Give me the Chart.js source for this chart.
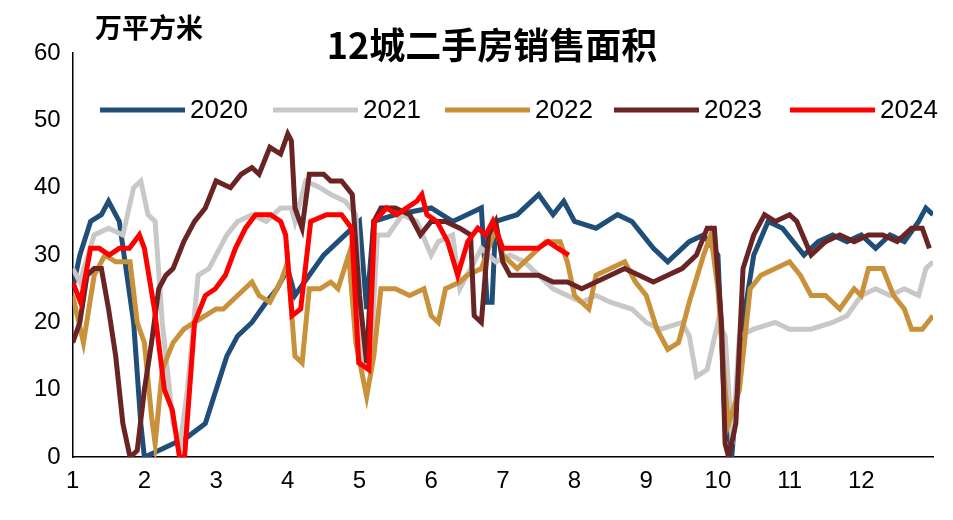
<!DOCTYPE html>
<html><head><meta charset="utf-8">
<script src="https://cdn.jsdelivr.net/npm/chart.js@4"></script>
<style>html,body{margin:0;background:#fff}#w{width:953px;height:520px}</style>
</head><body><div id="w"><canvas id="c"></canvas></div>
<script>
const title = "12城二手房销售面积";
const unit = "万平方米";
const monthTicks = [1,2,3,4,5,6,7,8,9,10,11,12];
const seriesNames = ["2020","2021","2022","2023","2024"];
const colors = ["#1F4E79","#C8C8C8","#C8913A","#6B2424","#FF0000"];

const x2020 = [1,1.1,1.25,1.4,1.5,1.65,1.85,1.95,2.0,2.2,2.4,2.6,2.85,3.0,3.15,3.3,3.5,3.7,3.85,4.0,4.1,4.3,4.5,4.8,5.0,5.1,5.2,5.5,6.0,6.3,6.5,6.7,6.78,6.85,6.9,7.2,7.5,7.7,7.85,8.0,8.3,8.6,8.8,9.1,9.3,9.6,9.8,10.0,10.1,10.2,10.35,10.5,10.7,10.9,11.2,11.4,11.6,11.8,12.0,12.2,12.4,12.6,12.8,12.9,13.0];
const y2020 = [25,30,35,36,38,35,20,5,0,1,2,3,5,10,15,18,20,23,25,28,24,27,30,33,35,22,35,36,37,35,36,37,23,23,35,36,39,36,38,35,34,36,35,31,29,32,33,30,5,1,20,30,35,34,30,32,33,32,33,31,33,32,35,37,36];

const x2021 = [1,1.1,1.3,1.5,1.7,1.85,1.95,2.05,2.15,2.25,2.4,2.5,2.6,2.75,2.9,3.0,3.15,3.3,3.5,3.7,3.9,4.05,4.1,4.25,4.45,4.6,4.8,4.95,5.05,5.15,5.25,5.4,5.6,5.8,6.0,6.1,6.3,6.4,6.5,6.7,6.9,7.1,7.3,7.5,7.7,7.9,8.1,8.3,8.5,8.8,9.0,9.2,9.5,9.6,9.7,9.85,10.0,10.1,10.2,10.3,10.5,10.8,11.0,11.3,11.6,11.8,12.0,12.2,12.4,12.6,12.8,12.9,13.0];
const y2021 = [28,26,33,34,33,40,41,36,35,20,5,2,10,27,28,30,33,35,36,35,37,37,35,41,40,39,38,36,14,13,33,33,36,35,30,32,33,25,27,31,29,30,29,27,25,24,23,24,23,22,20,19,20,18,12,13,20,18,2,18,19,20,19,19,20,21,24,25,24,25,24,28,29];

const x2022 = [1,1.15,1.3,1.45,1.6,1.8,1.9,2.0,2.1,2.15,2.25,2.4,2.55,2.7,2.85,3.0,3.1,3.3,3.5,3.6,3.75,3.9,4.0,4.1,4.2,4.3,4.45,4.6,4.7,4.85,4.95,5.1,5.2,5.3,5.5,5.7,5.9,6.0,6.1,6.2,6.4,6.5,6.7,6.9,7.0,7.2,7.4,7.6,7.8,7.9,8.0,8.2,8.3,8.5,8.7,8.85,9.0,9.15,9.3,9.45,9.6,9.8,9.9,10.0,10.1,10.15,10.3,10.45,10.6,10.8,11.0,11.15,11.3,11.5,11.7,11.9,12.0,12.1,12.3,12.45,12.6,12.7,12.85,13.0];
const y2022 = [24,17,27,30,29,29,20,17,6,2,13,17,19,20,21,22,22,24,26,24,23,26,29,15,14,25,25,26,25,30,17,9,15,25,25,24,25,21,20,25,26,27,28,34,30,28,30,32,32,29,24,22,27,28,29,26,24,19,16,17,23,30,33,25,10,5,10,25,27,28,29,27,24,24,22,25,24,28,28,24,22,19,19,21];

const x2023 = [1,1.1,1.2,1.3,1.4,1.5,1.6,1.7,1.8,1.9,2.0,2.1,2.2,2.3,2.4,2.55,2.7,2.85,3.0,3.2,3.35,3.5,3.6,3.75,3.9,4.0,4.05,4.1,4.2,4.3,4.5,4.6,4.75,4.9,5.0,5.1,5.2,5.3,5.5,5.7,5.85,6.0,6.2,6.4,6.55,6.6,6.7,6.8,6.9,7.0,7.1,7.3,7.5,7.7,7.9,8.1,8.3,8.5,8.7,8.9,9.1,9.3,9.5,9.7,9.85,9.95,10.05,10.1,10.15,10.25,10.35,10.5,10.65,10.8,11.0,11.1,11.3,11.5,11.7,11.9,12.1,12.3,12.5,12.7,12.85,12.95];
const y2023 = [17,20,27,28,28,22,15,5,0,1,10,17,25,27,28,32,35,37,41,40,42,43,42,46,45,48,47,37,34,42,42,41,41,39,24,14,35,37,37,36,33,35,35,34,33,21,20,33,35,29,27,27,27,26,26,25,26,27,28,27,26,27,28,30,34,34,20,2,0,5,28,33,36,35,36,35,30,32,33,32,33,33,32,34,34,31];

const x2024 = [1,1.11,1.25,1.37,1.51,1.65,1.79,1.93,2.0,2.14,2.28,2.39,2.49,2.56,2.7,2.85,2.99,3.13,3.27,3.41,3.55,3.76,3.9,3.97,4.06,4.18,4.32,4.54,4.75,4.89,4.99,5.13,5.21,5.38,5.52,5.66,5.8,5.87,5.94,6.08,6.23,6.37,6.51,6.65,6.76,6.86,7.0,7.14,7.28,7.49,7.63,7.77,7.92];
const y2024 = [26,23,31,31,30,31,31,33,31,22,10,7,0,0,20,24,25,27,31,34,36,36,35,33,21,22,35,36,36,34,14,13,35,37,36,37,38,39,36,35,32,27,32,34,33,35,31,31,31,31,32,31,30];

const xs = [x2020,x2021,x2022,x2023,x2024];
const ys = [y2020,y2021,y2022,y2023,y2024];
const datasets = seriesNames.map((n,i)=>({
  label:n, data: xs[i].map((x,j)=>({x:x,y:ys[i][j]})),
  borderColor:colors[i], backgroundColor:colors[i], borderWidth:5,
  pointRadius:0, tension:0, order:4-i
}));

const deco = {
  id:'deco',
  afterDraw(ch){
    const c=ch.ctx; c.save();
    c.fillStyle='#000'; c.textBaseline='middle';
    c.font='bold 36px "Noto Sans CJK SC"'; c.textAlign='center';
    c.fillText(title,492,45);
    c.font='bold 27px "Noto Sans CJK SC"'; c.textAlign='left';
    c.fillText(unit,95,28);
    const lx=[100,273,445,614,790];
    c.font='26px "Liberation Sans"';
    seriesNames.forEach((n,i)=>{
      c.strokeStyle=colors[i]; c.lineWidth=5; c.beginPath();
      c.moveTo(lx[i],110); c.lineTo(lx[i]+85,110); c.stroke();
      c.fillStyle='#000'; c.fillText(n,lx[i]+90,111);
    });
    c.restore();
  }
};

new Chart(document.getElementById('c'),{
  type:'line', data:{datasets},
  options:{responsive:true,maintainAspectRatio:false,animation:false,
    layout:{padding:{top:53,right:20,left:22,bottom:14}},
    plugins:{legend:{display:false},tooltip:{enabled:false}},
    scales:{
      x:{type:'linear',min:1,max:13,grid:{display:false,drawTicks:false},border:{color:'#000',width:1.5},
        afterBuildTicks:(a)=>{a.ticks=monthTicks.map(v=>({value:v}));},
        ticks:{color:'#000',font:{size:24,family:'Liberation Sans'},padding:10,autoSkip:false}},
      y:{min:0,max:60,grid:{display:false,drawTicks:false},border:{color:'#000',width:1.5},
        ticks:{stepSize:10,color:'#000',font:{size:24,family:'Liberation Sans'},padding:12}}
    }}
  ,plugins:[deco]});
</script></body></html>
